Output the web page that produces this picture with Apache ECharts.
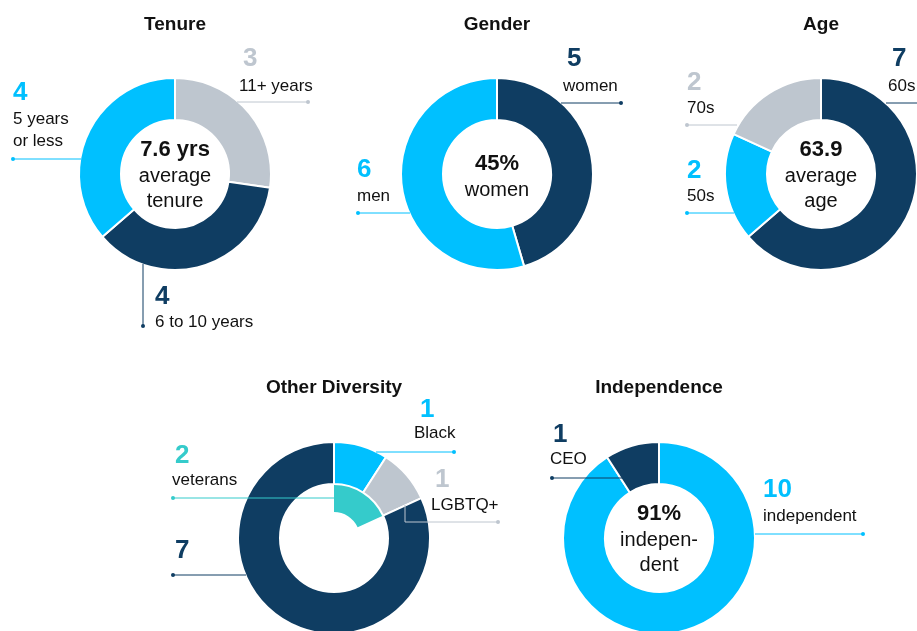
<!DOCTYPE html>
<html>
<head>
<meta charset="utf-8">
<script src="https://cdn.jsdelivr.net/npm/echarts@6/dist/echarts.min.js"></script>
<style>
  html, body { margin: 0; padding: 0; background: #fff; }
  #main { width: 917px; height: 631px; }
</style>
</head>
<body>
<div id="main"></div>
<script>
// board composition, one donut per panel
var tenureNames = ['11+ years', '6 to 10 years', '5 years\nor less'];
var tenureValues = [3, 4, 4];

var genderNames = ['women', 'men'];
var genderValues = [5, 6];

var ageNames = ['60s', '50s', '70s'];
var ageValues = [7, 2, 2];

// veterans sit in the inner ring, the rest on the outer ring
var diversityNames = ['Black', 'LGBTQ+', 'veterans', ''];
var diversityValues = [1, 1, 2, 7];

var independenceNames = ['independent', 'CEO'];
var independenceValues = [10, 1];

var panelTitles = ['Tenure', 'Gender', 'Age', 'Other Diversity', 'Independence'];
var centerNumbers = ['7.6 yrs', '45%', '63.9', '', '91%'];
var centerWords = [['average', 'tenure'], ['women'], ['average', 'age'], [], ['indepen-', 'dent']];

var LIGHT = '#00c0ff', DARK = '#0f3d62', GREY = '#bec6cf', TEAL = '#35cbcb', INK = '#111111';
var FONT = '"Liberation Sans", Arial, sans-serif';

var myChart = echarts.init(document.getElementById('main'));

function donut(center, radius, names, values, colors) {
    return {
        type: 'pie',
        center: center,
        radius: radius,
        startAngle: 90,
        silent: true,
        animation: false,
        label: { show: false },
        labelLine: { show: false },
        itemStyle: { borderColor: '#fff', borderWidth: 2 },
        data: values.map(function (v, i) {
            return { name: names[i], value: v, itemStyle: { color: colors[i] } };
        })
    };
}

// panel layout: centres, label anchors and leader lines (pixels)
var panels = [
    { center: [175, 174], titleY: 25, marks: [
        { color: GREY, num: [243, 59], name: [239, 86], line: [[237, 102], [308, 102]] },
        { color: DARK, num: [155, 297], name: [155, 322], line: [[143, 264], [143, 326]] },
        { color: LIGHT, num: [13, 93], name: [13, 130], line: [[81, 159], [13, 159]] }
    ] },
    { center: [497, 174], titleY: 25, marks: [
        { color: DARK, num: [567, 59], name: [563, 86], line: [[561, 103], [621, 103]] },
        { color: LIGHT, num: [357, 170], name: [357, 196], line: [[410, 213], [358, 213]] }
    ] },
    { center: [821, 174], titleY: 25, marks: [
        { color: DARK, num: [892, 59], name: [888, 86], line: [[886, 103], [930, 103]] },
        { color: LIGHT, num: [687, 171], name: [687, 196], line: [[734, 213], [687, 213]] },
        { color: GREY, num: [687, 83], name: [687, 108], line: [[737, 125], [687, 125]] }
    ] },
    { center: [334, 538], titleY: 388, marks: [
        { color: LIGHT, num: [420, 410], name: [414, 433], line: [[376, 452], [454, 452]] },
        { color: GREY, num: [435, 480], name: [431, 505], line: [[405, 505], [405, 522], [498, 522]] },
        { color: TEAL, num: [175, 456], name: [172, 480], line: [[337, 498], [173, 498]] },
        { color: DARK, num: [175, 551], name: [175, 575], line: [[246, 575], [173, 575]] }
    ] },
    { center: [659, 538], titleY: 388, marks: [
        { color: LIGHT, num: [763, 490], name: [763, 516], line: [[755, 534], [863, 534]] },
        { color: DARK, num: [553, 435], name: [550, 459], line: [[623, 478], [552, 478]] }
    ] }
];

var allNames = [tenureNames, genderNames, ageNames, diversityNames, independenceNames];
var allValues = [tenureValues, genderValues, ageValues, diversityValues, independenceValues];

var series = [
    donut(panels[0].center, [54, 96], tenureNames, tenureValues, [GREY, DARK, LIGHT]),
    donut(panels[1].center, [54, 96], genderNames, genderValues, [DARK, LIGHT]),
    donut(panels[2].center, [54, 96], ageNames, ageValues, [DARK, LIGHT, GREY])
];

// outer ring: Black, LGBTQ+, everyone else
var divTotal = diversityValues.reduce(function (a, b) { return a + b; }, 0);
series.push(donut(panels[3].center, [54, 96],
    ['Black', 'LGBTQ+', 'rest'],
    [diversityValues[0], diversityValues[1], divTotal - diversityValues[0] - diversityValues[1]],
    [LIGHT, GREY, DARK]));
// inner ring: veterans
var inner = donut(panels[3].center, [26, 53], ['veterans', 'gap'],
    [diversityValues[2], divTotal - diversityValues[2]], [TEAL, 'rgba(0,0,0,0)']);
inner.itemStyle = { borderWidth: 0 };
series.push(inner);

series.push(donut(panels[4].center, [54, 96], independenceNames, independenceValues, [LIGHT, DARK]));

function txt(x, y, text, font, fill, align) {
    return {
        type: 'text', x: x, y: y, z: 100, silent: true,
        style: {
            text: text, font: font, fill: fill,
            align: align, verticalAlign: 'middle',
            textAlign: align, textVerticalAlign: 'middle',
            lineHeight: 22
        }
    };
}

var graphics = [];
panels.forEach(function (p, k) {
    graphics.push(txt(p.center[0], p.titleY, panelTitles[k], 'bold 19px ' + FONT, INK, 'center'));

    // centre statistic
    if (centerNumbers[k]) {
        var cy = p.center[1];
        var nLines = centerWords[k].length;
        var top = cy - (nLines === 1 ? 10 : 24);
        graphics.push(txt(p.center[0], top, centerNumbers[k], 'bold 22px ' + FONT, INK, 'center'));
        centerWords[k].forEach(function (w, j) {
            graphics.push(txt(p.center[0], top + 26 + j * 25.5, w, '20px ' + FONT, INK, 'center'));
        });
    }

    p.marks.forEach(function (m, i) {
        var pts = m.line;
        graphics.push({
            type: 'polyline', z: 99, silent: true,
            shape: { points: pts },
            style: { stroke: m.color, lineWidth: 1, fill: null }
        });
        var end = pts[pts.length - 1];
        graphics.push({
            type: 'circle', z: 99, silent: true,
            shape: { cx: end[0], cy: end[1], r: 2 },
            style: { fill: m.color }
        });
        graphics.push(txt(m.num[0], m.num[1], String(allValues[k][i]), 'bold 26px ' + FONT, m.color, 'left'));
        if (allNames[k][i]) {
            graphics.push(txt(m.name[0], m.name[1], allNames[k][i], '17px ' + FONT, INK, 'left'));
        }
    });
});

var option = {
    backgroundColor: '#fff',
    animation: false,
    series: series,
    graphic: { elements: graphics }
};
myChart.setOption(option);
window.onresize = myChart.resize;
</script>
</body>
</html>
